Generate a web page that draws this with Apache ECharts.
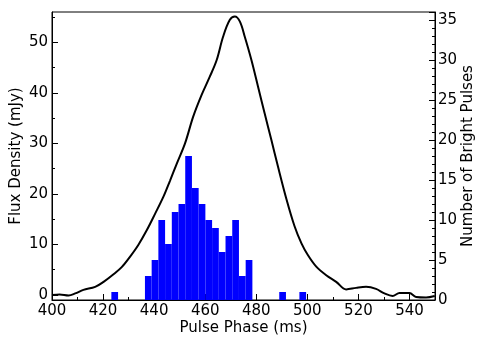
<!DOCTYPE html>
<html><head><meta charset="utf-8">
<script src="https://cdn.jsdelivr.net/npm/echarts@6/dist/echarts.min.js"></script>
<style>html,body{margin:0;padding:0;background:#fff}#c{width:488px;height:342px}</style>
</head><body><div id="c"></div>
<script>
// Flux density profile (black line)
const phase = [400.0,403.0,406.5,409.1,412.3,416.9,420.2,424.1,427.3,430.6,433.8,437.1,440.4,443.6,446.2,448.8,452.1,455.3,458.6,461.8,464.5,467.0,469.6,471.6,473.6,475.5,478.1,480.7,483.3,485.9,488.5,491.8,495.0,497.7,500.2,503.5,507.4,511.3,515.2,519.1,523.0,526.9,530.2,533.4,536.1,540.0,542.6,546.5,549.9];
const flux  = [0.0,0.1,-0.1,0.3,1.0,1.6,2.6,4.1,5.5,7.6,9.9,12.8,16.1,19.4,22.6,25.9,30.0,35.3,39.6,43.2,46.5,51.1,54.4,55.1,54.1,51.1,46.5,41.2,35.9,30.7,25.4,19.0,13.6,10.2,7.9,5.6,3.9,2.6,1.1,1.4,1.6,1.2,0.3,-0.2,0.4,0.4,-0.4,-0.5,-0.2];
// Histogram of bright pulses (blue bars): bin left edge, bin right edge, count
const binLeft  = [423.25,436.40,439.03,441.66,444.29,446.92,449.55,452.18,454.81,457.44,460.07,462.70,465.33,467.96,470.59,473.22,475.85,489.00,496.89];
const binRight = [425.88,439.03,441.66,444.29,446.92,449.55,452.18,454.81,457.44,460.07,462.70,465.33,467.96,470.59,473.22,475.85,478.48,491.63,499.52];
const counts   = [1,3,5,10,7,11,12,18,14,12,10,9,6,8,10,3,5,1,1];
// Tick labels
const fluxTicks = [0,10,20,30,40,50];
const fluxMinor = [5,15,25,35,45,55];

const FONT = 'DejaVu Sans';
const FS = 15;
const lineData = phase.map((p,i)=>[p,flux[i]]);
const histData = binLeft.map((l,i)=>[l,binRight[i],counts[i]]);

const chart = echarts.init(document.getElementById('c'), null, {renderer:'canvas'});
chart.setOption({
  animation:false,
  backgroundColor:'#fff',
  grid:{left:52,right:53,top:12,bottom:42,containLabel:false,outerBoundsMode:'none',show:true,borderColor:'#000',borderWidth:1,backgroundColor:'transparent'},
  xAxis:[{
    type:'value',min:400,max:550,interval:20,
    name:'Pulse Phase (ms)',nameLocation:'middle',nameGap:21,nameMoveOverlap:false,
    nameTextStyle:{fontFamily:FONT,fontSize:FS,color:'#000'},
    axisLine:{show:true,onZero:false,lineStyle:{color:'#000',width:1}},
    axisTick:{show:true,inside:true,length:6,lineStyle:{color:'#000'}},
    minorTick:{show:true,splitNumber:2,length:3,lineStyle:{color:'#000'}},
    axisLabel:{fontFamily:FONT,fontSize:FS,color:'#000',margin:4,showMaxLabel:false},
    splitLine:{show:false},minorSplitLine:{show:false}
  }],
  yAxis:[{
    type:'value',min:-1,max:56,position:'left',
    name:'Flux Density (mJy)',nameLocation:'middle',nameGap:28,nameRotate:90,nameMoveOverlap:false,
    nameTextStyle:{fontFamily:FONT,fontSize:FS,color:'#000'},
    axisLine:{show:true,onZero:false,lineStyle:{color:'#000',width:1}},
    axisTick:{show:true,inside:true,length:6,customValues:fluxTicks,lineStyle:{color:'#000'}},
    axisLabel:{fontFamily:FONT,fontSize:FS,color:'#000',margin:4,customValues:fluxTicks},
    splitLine:{show:false}
  },{
    type:'value',min:0,max:36,interval:5,position:'right',
    name:'Number of Bright Pulses',nameLocation:'middle',nameGap:26,nameRotate:90,nameMoveOverlap:false,
    nameTextStyle:{fontFamily:FONT,fontSize:FS,color:'#000'},
    axisLine:{show:true,onZero:false,lineStyle:{color:'#000',width:1}},
    axisTick:{show:true,inside:true,length:6,lineStyle:{color:'#000'}},
    minorTick:{show:true,splitNumber:5,length:3,lineStyle:{color:'#000'}},
    axisLabel:{fontFamily:FONT,fontSize:FS,color:'#000',margin:3,showMaxLabel:false},
    splitLine:{show:false},minorSplitLine:{show:false}
  },{
    type:'value',min:-1,max:56,position:'left',
    axisLine:{show:false,onZero:false},
    axisTick:{show:true,inside:true,length:3,customValues:fluxMinor,lineStyle:{color:'#000'}},
    axisLabel:{show:false},splitLine:{show:false}
  }],
  series:[{
    type:'custom',xAxisIndex:0,yAxisIndex:1,z:2,
    encode:{x:[0,1],y:2},
    data:histData,
    renderItem:function(params,api){
      const s = api.coord([api.value(0),0]);
      const e = api.coord([api.value(1),api.value(2)]);
      return {type:'rect',shape:{x:s[0],y:e[1],width:e[0]-s[0],height:s[1]-e[1]},style:{fill:'#0000ff'}};
    }
  },{
    type:'line',xAxisIndex:0,yAxisIndex:0,z:3,
    data:lineData,showSymbol:false,smooth:0.35,
    lineStyle:{color:'#000',width:2}
  }]
});
</script></body></html>
